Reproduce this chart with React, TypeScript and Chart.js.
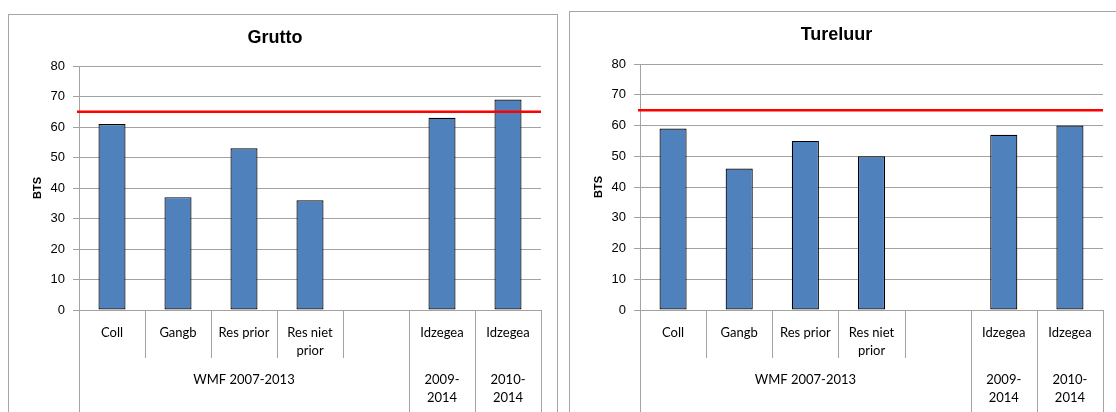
import React, { useEffect, useRef } from 'react';
import { Chart, registerables } from 'chart.js';

Chart.register(...registerables);

// ---- data ----
const categoryLabels: string[][] = [
  ['Coll'],
  ['Gangb'],
  ['Res prior'],
  ['Res niet', 'prior'],
  [''],
  ['Idzegea'],
  ['Idzegea'],
];
const groupLabels: string[][] = [['WMF 2007-2013'], ['2009-', '2014'], ['2010-', '2014']];
const groupSpans: number[] = [5, 1, 1];
const gruttoValues: (number | null)[] = [61, 37, 53, 36, null, 63, 69];
const tureluurValues: (number | null)[] = [59, 46, 55, 50, null, 57, 60];
const targetLevel = 65;
const yMin = 0;
const yMax = 80;
const yStep = 10;

const GRID = '#a3a3a3';

const catAxisPlugin = {
  id: 'catAxis',
  afterDatasetsDraw(chart: any) {
    const { ctx, chartArea } = chart;
    const y = chart.scales.y.getPixelForValue(targetLevel);
    ctx.save();
    ctx.strokeStyle = '#ff0000';
    ctx.lineWidth = 2.5;
    ctx.beginPath();
    ctx.moveTo(chartArea.left - 2, y);
    ctx.lineTo(chartArea.right, y);
    ctx.stroke();
    ctx.restore();
  },
  afterDraw(chart: any) {
    const { ctx, chartArea } = chart;
    const xs = chart.scales.x;
    const n = categoryLabels.length;
    const half = (xs.getPixelForValue(1) - xs.getPixelForValue(0)) / 2;
    const bottom = chartArea.bottom;
    const canvasBottom = chart.height;
    const groupBounds = new Set<number>([0]);
    let acc = 0;
    groupSpans.forEach((s) => {
      acc += s;
      groupBounds.add(acc);
    });
    ctx.save();
    ctx.strokeStyle = GRID;
    ctx.lineWidth = 1;
    for (let i = 0; i <= n; i++) {
      const x = Math.round(xs.getPixelForValue(i) - half) + 0.5;
      const end = groupBounds.has(i) ? canvasBottom : bottom + 48;
      ctx.beginPath();
      ctx.moveTo(x, bottom);
      ctx.lineTo(x, end);
      ctx.stroke();
    }
    ctx.fillStyle = '#000';
    ctx.textAlign = 'center';
    ctx.textBaseline = 'middle';
    ctx.font = '13px Lato';
    categoryLabels.forEach((lines, i) => {
      const cx = xs.getPixelForValue(i);
      lines.forEach((t, k) => ctx.fillText(t, cx, bottom + 23 + k * 18));
    });
    let start = 0;
    groupLabels.forEach((lines, g) => {
      const span = groupSpans[g];
      const left = xs.getPixelForValue(start) - half;
      const right = xs.getPixelForValue(start + span - 1) + half;
      const cx = (left + right) / 2;
      lines.forEach((t, k) => ctx.fillText(t, cx, bottom + 70 + k * 18));
      start += span;
    });
    ctx.restore();
  },
};

type Props = {
  title: string;
  values: (number | null)[];
  padRight: number;
  padBottom: number;
  titleBottom: number;
};

function BarChart({ title, values, padRight, padBottom, titleBottom }: Props) {
  const ref = useRef<HTMLCanvasElement>(null);
  useEffect(() => {
    const chart = new Chart(ref.current as HTMLCanvasElement, {
      type: 'bar',
      data: {
        labels: categoryLabels.map((c) => c.join(' ')),
        datasets: [
          {
            data: values as any,
            backgroundColor: '#4f81bd',
            borderColor: '#000000',
            borderWidth: 1.2,
            borderSkipped: false,
            barPercentage: 0.41,
            categoryPercentage: 1,
          },
        ],
      },
      options: {
        responsive: false,
        animation: false,
        layout: { padding: { top: 0, left: 0, right: padRight, bottom: padBottom } },
        plugins: {
          legend: { display: false },
          tooltip: { enabled: false },
          title: {
            display: true,
            text: title,
            color: '#000',
            font: { family: 'Liberation Sans', size: 18, weight: 'bold' },
            padding: { top: 12, bottom: titleBottom },
          },
        },
        scales: {
          x: { display: false },
          y: {
            min: yMin,
            max: yMax,
            ticks: {
              stepSize: yStep,
              padding: 8,
              color: '#000',
              font: { family: 'Liberation Sans', size: 13 },
            },
            grid: { color: GRID, tickLength: 6 },
            border: { color: GRID },
            title: {
              display: true,
              text: 'BTS',
              color: '#000',
              font: { family: 'Liberation Sans', size: 11, weight: 'bold' },
              padding: { top: 22, bottom: 0 },
            },
            afterFit: (s: any) => {
              s.width = 70;
            },
          },
        },
      },
      plugins: [catAxisPlugin],
    } as any);
    return () => chart.destroy();
  }, []);
  return <canvas ref={ref} width={548} height={400} style={{ display: 'block' }} />;
}

export default function App() {
  const box: React.CSSProperties = {
    position: 'absolute',
    width: 550,
    height: 420,
    border: '1px solid #a6a6a6',
    boxSizing: 'border-box',
    background: '#fff',
  };
  return (
    <div
      style={{
        position: 'fixed',
        left: 0,
        top: 0,
        width: 1116,
        height: 412,
        overflow: 'hidden',
        background: '#fff',
      }}
    >
      <div style={{ ...box, left: 8, top: 14 }}>
        <BarChart title="Grutto" values={gruttoValues} padRight={16} padBottom={105} titleBottom={17.4} />
      </div>
      <div style={{ ...box, left: 569, top: 11 }}>
        <BarChart title="Tureluur" values={tureluurValues} padRight={15} padBottom={102} titleBottom={18.4} />
      </div>
    </div>
  );
}
